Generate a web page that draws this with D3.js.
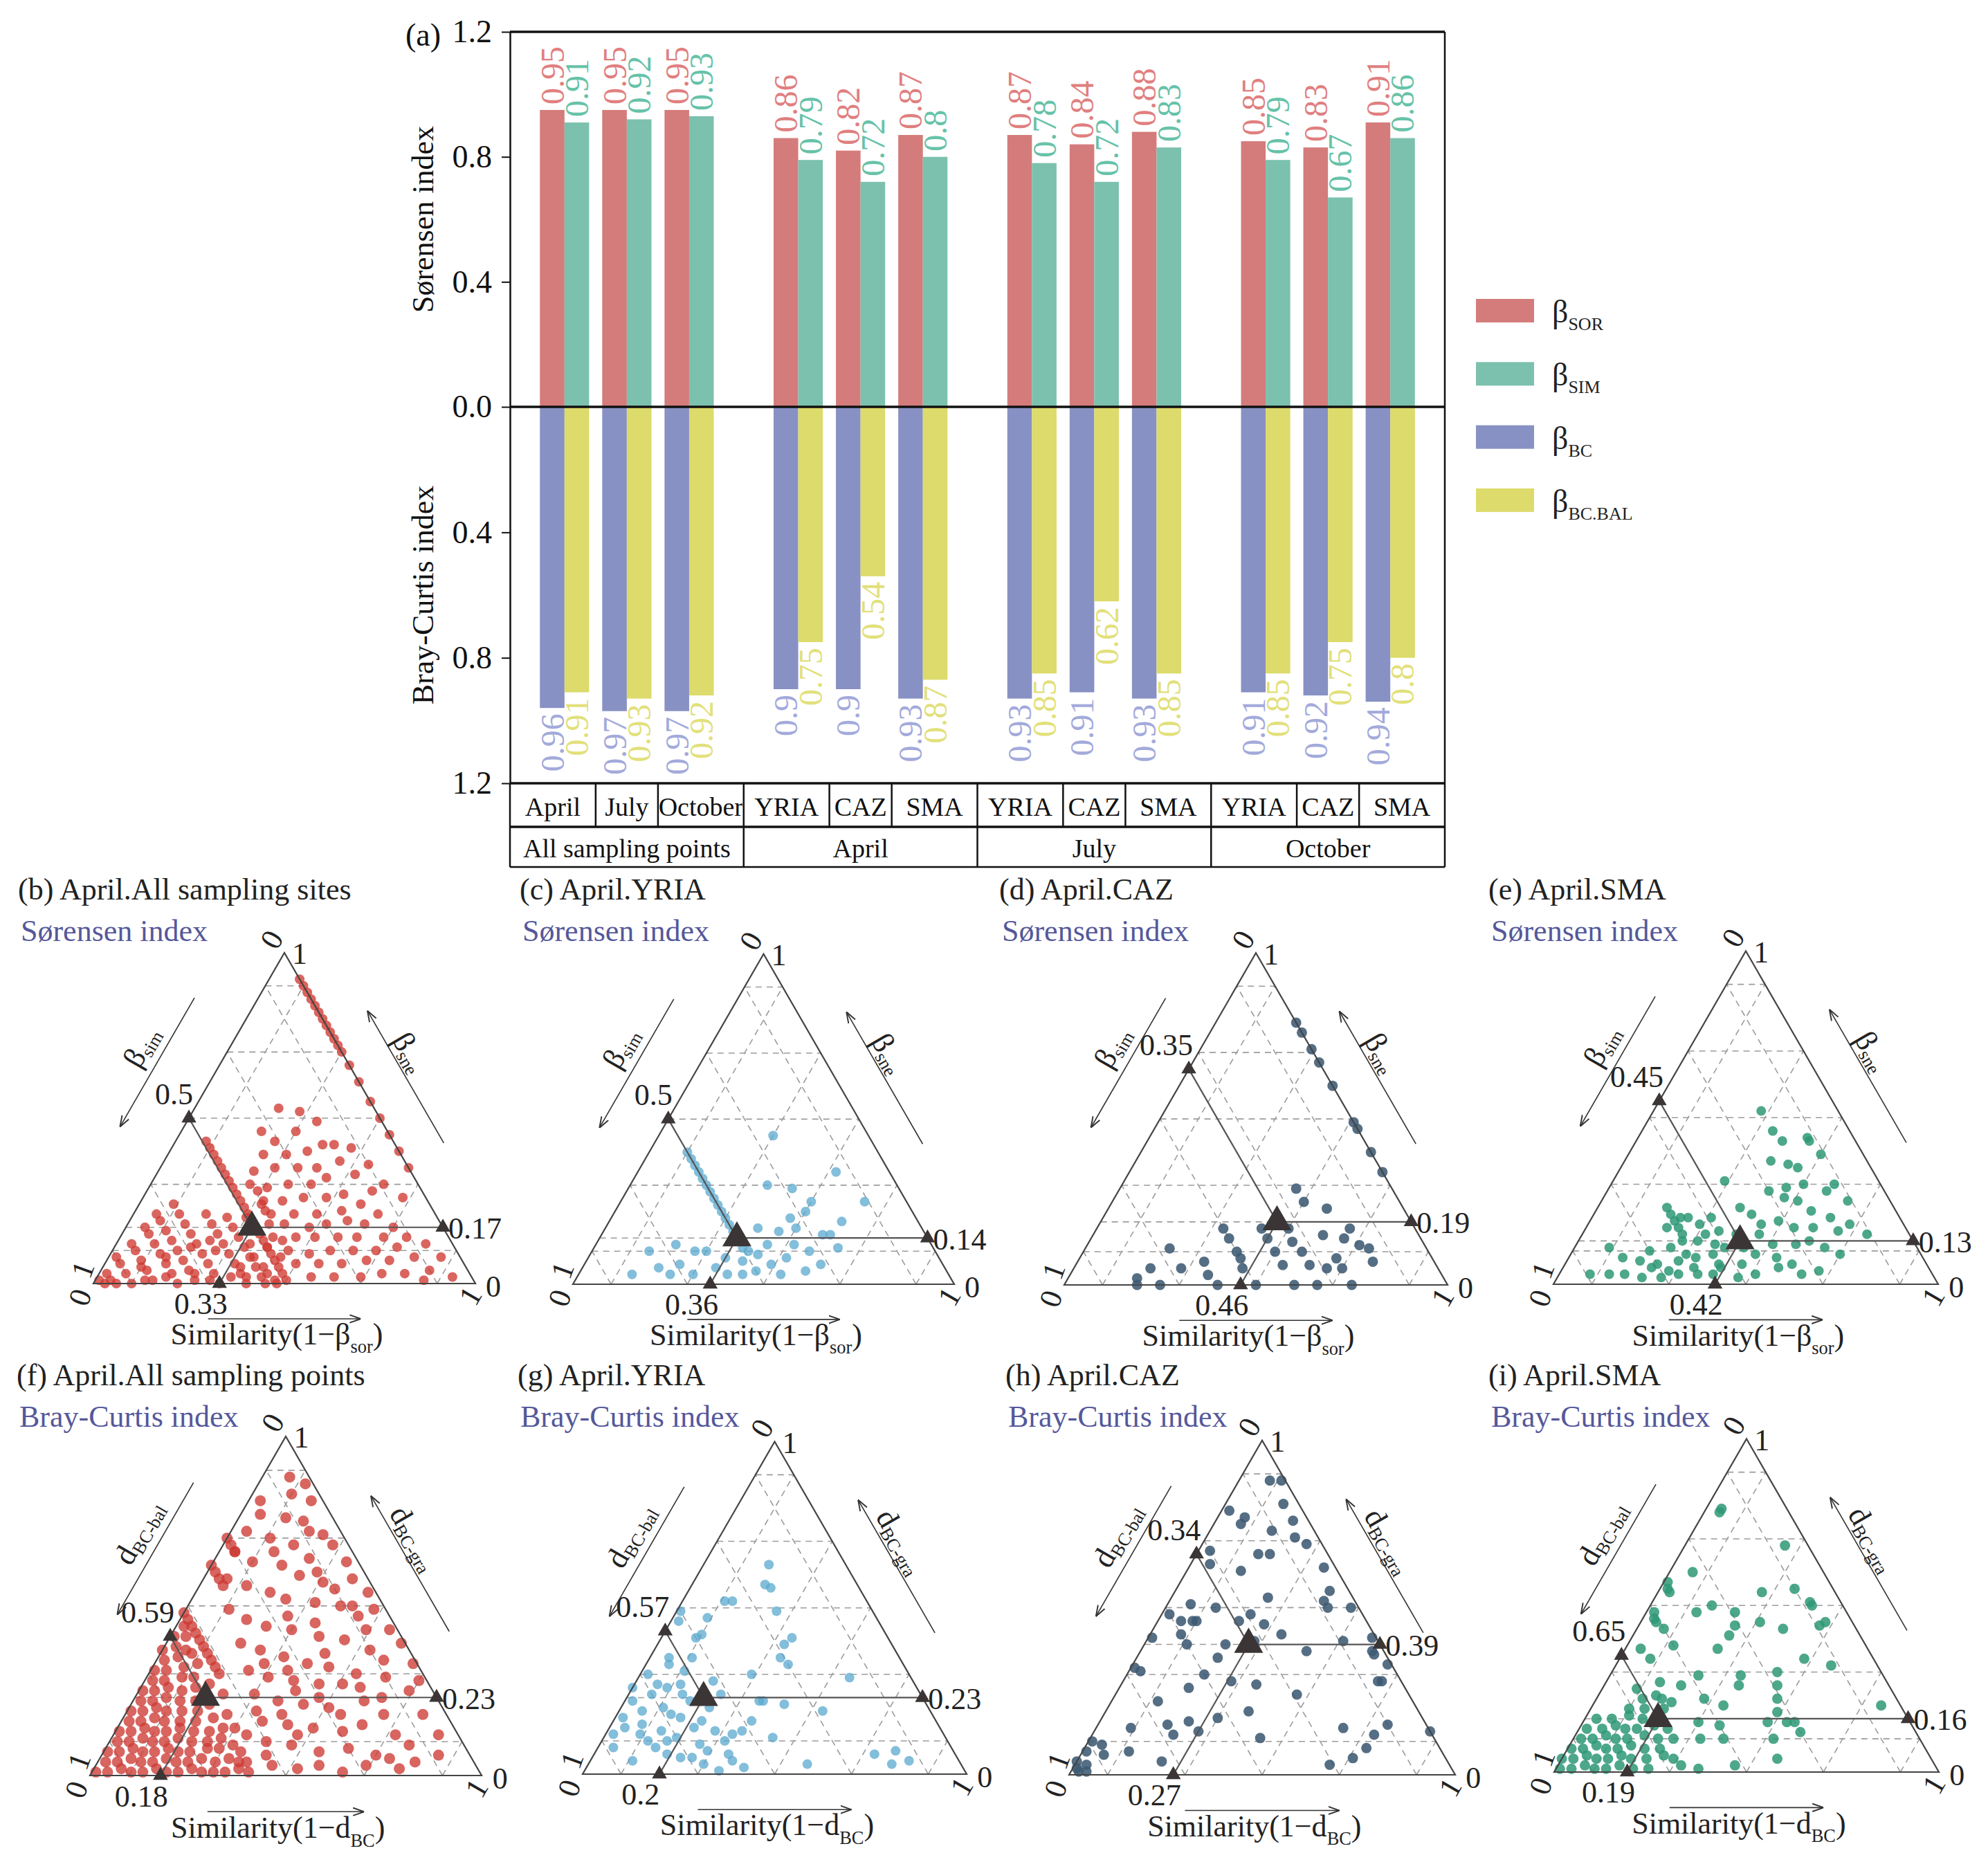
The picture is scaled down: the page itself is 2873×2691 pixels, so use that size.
<!DOCTYPE html>
<html>
<head>
<meta charset="utf-8">
<script src="https://cdn.jsdelivr.net/npm/d3@7"></script>
<style>
body { margin: 0; background: #fff; }
text { font-family: "Liberation Serif", "Times New Roman", serif; }
</style>
</head>
<body>
<div id="chart"></div>
<script>
const width = 2873;
const height = 2691;

// ---------- bar chart data ----------
const categories = ["April", "July", "October", "YRIA", "CAZ", "SMA", "YRIA", "CAZ", "SMA", "YRIA", "CAZ", "SMA"];
const categoryGroup = [0, 0, 0, 1, 1, 1, 2, 2, 2, 3, 3, 3];
const groups = ["All sampling points", "April", "July", "October"];
const sorValues = [0.95, 0.95, 0.95, 0.86, 0.82, 0.87, 0.87, 0.84, 0.88, 0.85, 0.83, 0.91];
const simValues = [0.91, 0.92, 0.93, 0.79, 0.72, 0.8, 0.78, 0.72, 0.83, 0.79, 0.67, 0.86];
const bcValues = [0.96, 0.97, 0.97, 0.9, 0.9, 0.93, 0.93, 0.91, 0.93, 0.91, 0.92, 0.94];
const balValues = [0.91, 0.93, 0.92, 0.75, 0.54, 0.87, 0.85, 0.62, 0.85, 0.85, 0.75, 0.8];
const upperTicks = [0, 0.4, 0.8, 1.2];
const lowerTicks = [0.4, 0.8, 1.2];
const legendNames = [["β", "SOR"], ["β", "SIM"], ["β", "BC"], ["β", "BC.BAL"]];

// ---------- ternary data: [similarity, nestedness/gradient] ----------
const panelTitles = ["(b) April.All sampling sites", "(c) April.YRIA", "(d) April.CAZ", "(e) April.SMA",
  "(f) April.All sampling points", "(g) April.YRIA", "(h) April.CAZ", "(i) April.SMA"];
const meanSim = [0.33, 0.36, 0.46, 0.42, 0.18, 0.2, 0.27, 0.19];
const meanLeft = [0.5, 0.5, 0.35, 0.45, 0.59, 0.57, 0.34, 0.65];
const meanRight = [0.17, 0.14, 0.19, 0.13, 0.23, 0.23, 0.39, 0.16];

const ptsB = [
  [0.08,0.92],[0.10,0.90],[0.12,0.88],[0.14,0.86],[0.16,0.84],[0.18,0.82],[0.20,0.80],[0.22,0.78],[0.24,0.76],[0.26,0.74],[0.28,0.72],[0.30,0.70],[0.34,0.66],[0.39,0.61],[0.45,0.55],[0.50,0.50],[0.55,0.45],[0.60,0.40],[0.65,0.35],
  [0.08,0.43],[0.10,0.41],[0.12,0.39],[0.14,0.37],[0.16,0.35],[0.18,0.33],[0.20,0.31],[0.22,0.29],[0.24,0.27],[0.26,0.25],[0.28,0.23],[0.30,0.21],[0.32,0.19],[0.34,0.17],[0.36,0.15],[0.38,0.13],[0.40,0.11],[0.42,0.09],[0.44,0.07],[0.46,0.05],[0.48,0.03],[0.50,0.01],
  [0.22,0.53],[0.28,0.52],[0.34,0.49],[0.21,0.46],[0.30,0.46],[0.26,0.43],[0.39,0.42],[0.42,0.42],[0.36,0.40],[0.25,0.39],[0.31,0.39],[0.47,0.41],[0.46,0.37],[0.41,0.35],[0.36,0.35],[0.30,0.35],[0.25,0.34],[0.54,0.36],[0.45,0.32],[0.52,0.33],[0.42,0.30],[0.36,0.30],[0.31,0.29],[0.26,0.30],[0.61,0.30],[0.59,0.28],[0.52,0.27],[0.48,0.26],[0.42,0.26],[0.37,0.25],[0.32,0.25],[0.58,0.24],[0.68,0.26],[0.54,0.22],[0.48,0.21],[0.42,0.21],[0.36,0.21],[0.64,0.21],[0.70,0.17],[0.62,0.18],[0.57,0.19],[0.52,0.18],[0.48,0.17],[0.41,0.18],[0.37,0.18],[0.75,0.14],[0.69,0.14],[0.62,0.14],[0.57,0.14],[0.51,0.14],[0.46,0.14],[0.40,0.14],[0.81,0.12],[0.74,0.11],[0.69,0.10],[0.63,0.10],[0.57,0.10],[0.52,0.09],[0.46,0.10],[0.87,0.08],[0.80,0.08],[0.74,0.07],[0.68,0.07],[0.62,0.06],[0.56,0.06],[0.50,0.06],[0.86,0.04],[0.80,0.03],[0.74,0.03],[0.69,0.02],[0.62,0.02],[0.56,0.02],[0.93,0.02],[0.86,0.01],
  [0.29,0.28],[0.32,0.24],[0.33,0.16],[0.35,0.12],[0.38,0.08],[0.42,0.05],[0.36,0.05],[0.40,0.11],[0.44,0.03],[0.47,0.01],[0.30,0.20],[0.34,0.22],[0.39,0.02],[0.43,0.13],[0.45,0.08],
  [0.43,0.02],[0.40,0.05],[0.37,0.08],[0.34,0.11],[0.31,0.14],[0.28,0.17],[0.25,0.20],
  [0.40,0.00],[0.37,0.03],[0.34,0.06],[0.31,0.09],[0.28,0.12],[0.25,0.15],[0.22,0.18],[0.19,0.21],
  [0.33,0.00],[0.30,0.03],[0.27,0.06],[0.24,0.09],[0.21,0.12],[0.18,0.15],[0.15,0.18],[0.12,0.21],[0.09,0.24],
  [0.26,0.01],[0.23,0.04],[0.20,0.07],[0.17,0.10],[0.14,0.13],[0.11,0.16],[0.08,0.19],[0.06,0.21],
  [0.22,0.00],[0.19,0.03],[0.16,0.06],[0.13,0.09],[0.10,0.12],[0.07,0.15],[0.05,0.17],
  [0.15,0.01],[0.12,0.04],[0.09,0.07],[0.06,0.10],[0.04,0.12],
  [0.10,0.00],[0.07,0.03],[0.04,0.06],[0.02,0.08],[0.04,0.01],[0.02,0.03],
  [0.01,0.01],[0.03,0.00],[0.06,0.00],[0.13,0.01],[0.18,0.02],[0.25,0.03],[0.30,0.01],[0.35,0.02],[0.45,0.00],[0.48,0.00],[0.20,0.11],[0.15,0.08],[0.27,0.10],[0.24,0.13],[0.10,0.05]
];
const ptsC = [
  [0.30,0.45],[0.52,0.34],[0.43,0.29],[0.50,0.25],[0.64,0.25],[0.50,0.22],[0.47,0.20],[0.61,0.19],[0.40,0.17],[0.46,0.16],[0.58,0.15],[0.60,0.15],[0.52,0.12],[0.57,0.10],[0.64,0.11],[0.45,0.12],[0.44,0.09],[0.49,0.06],[0.59,0.04],[0.53,0.03],[0.46,0.04],[0.15,0.10],[0.21,0.12],[0.20,0.05],[0.14,0.03],[0.25,0.06],[0.30,0.03],[0.30,0.10],[0.35,0.05],[0.39,0.03],[0.36,0.08],[0.27,0.10],[0.24,0.03],[0.43,0.03],[0.41,0.10],[0.52,0.08],[0.50,0.17],[0.62,0.06],[0.36,0.30],
  [0.10,0.40],[0.12,0.38],[0.14,0.36],[0.16,0.34],[0.18,0.32],[0.20,0.30],[0.22,0.28],[0.24,0.26],[0.26,0.24],[0.28,0.22],[0.30,0.20],[0.32,0.18],[0.34,0.16],[0.37,0.13],[0.39,0.11],[0.41,0.07]
];
const ptsD = [
  [0.21,0.79],[0.24,0.76],[0.29,0.71],[0.33,0.67],[0.40,0.60],[0.51,0.49],[0.53,0.47],[0.60,0.40],[0.66,0.34],
  [0.19,0.00],[0.25,0.00],[0.40,0.00],[0.50,0.00],[0.60,0.00],[0.66,0.00],[0.75,0.00],
  [0.46,0.29],[0.50,0.25],[0.57,0.23],[0.43,0.17],[0.50,0.17],[0.33,0.17],[0.36,0.14],[0.40,0.10],[0.42,0.08],[0.44,0.05],[0.46,0.14],[0.50,0.10],[0.54,0.06],[0.53,0.13],[0.57,0.10],[0.61,0.06],[0.60,0.15],[0.66,0.05],[0.67,0.08],[0.70,0.05],[0.66,0.14],[0.66,0.17],[0.71,0.12],[0.74,0.11],[0.77,0.07],[0.22,0.11],[0.20,0.05],[0.18,0.02],[0.28,0.05],[0.33,0.07],[0.36,0.03]
];
const ptsE = [
  [0.28,0.52],[0.34,0.46],[0.38,0.43],[0.44,0.44],[0.45,0.43],[0.50,0.39],[0.38,0.37],[0.43,0.36],[0.46,0.35],[0.29,0.31],[0.50,0.30],[0.42,0.28],[0.46,0.29],[0.58,0.30],[0.57,0.28],[0.47,0.26],[0.51,0.25],[0.64,0.25],[0.37,0.23],[0.41,0.21],[0.56,0.22],[0.62,0.20],[0.68,0.18],[0.45,0.18],[0.49,0.19],[0.54,0.17],[0.59,0.17],[0.66,0.16],[0.74,0.15],[0.46,0.15],[0.51,0.12],[0.57,0.12],[0.60,0.13],[0.65,0.11],[0.70,0.09],[0.48,0.09],[0.54,0.08],[0.59,0.06],[0.63,0.03],[0.67,0.04],[0.51,0.03],[0.46,0.06],[0.44,0.11],[0.40,0.15],
  [0.18,0.23],[0.22,0.19],[0.23,0.20],[0.25,0.20],[0.21,0.17],[0.26,0.15],[0.29,0.18],[0.31,0.20],[0.35,0.16],[0.31,0.13],[0.25,0.11],[0.20,0.10],[0.09,0.11],[0.14,0.08],[0.19,0.07],[0.24,0.06],[0.29,0.07],[0.33,0.08],[0.37,0.09],[0.39,0.11],[0.08,0.03],[0.13,0.03],[0.17,0.03],[0.22,0.02],[0.27,0.02],[0.31,0.03],[0.36,0.03],[0.40,0.03],[0.41,0.05],[0.23,0.05],[0.30,0.09],[0.32,0.15],[0.40,0.06],[0.47,0.02],[0.56,0.05],
  [0.20,0.21],[0.24,0.17],[0.27,0.13],[0.28,0.04],[0.34,0.05],[0.36,0.12]
];
const ptsF = [
  [0.12,0.86],[0.10,0.83],[0.16,0.81],[0.03,0.81],[0.05,0.77],[0.12,0.76],[0.17,0.75],[0.24,0.71],[0.28,0.68],[0.04,0.72],[0.11,0.70],[0.18,0.68],[0.24,0.64],[0.34,0.63],[0.38,0.58],[0.04,0.66],[0.10,0.63],[0.18,0.62],[0.24,0.59],[0.31,0.57],[0.44,0.54],[0.48,0.49],[0.06,0.58],[0.12,0.56],[0.19,0.54],[0.24,0.52],[0.32,0.51],[0.39,0.50],[0.45,0.47],[0.55,0.43],[0.60,0.39],[0.11,0.49],[0.17,0.46],[0.23,0.44],[0.30,0.43],[0.38,0.41],[0.45,0.40],[0.53,0.37],[0.66,0.33],[0.70,0.28],[0.19,0.39],[0.25,0.37],[0.32,0.35],[0.39,0.33],[0.45,0.32],[0.53,0.30],[0.61,0.29],[0.25,0.31],[0.31,0.29],[0.38,0.28],[0.45,0.27],[0.51,0.27],[0.69,0.25],[0.30,0.24],[0.37,0.22],[0.44,0.21],[0.51,0.20],[0.59,0.22],[0.66,0.18],[0.76,0.18],[0.36,0.16],[0.43,0.15],[0.50,0.14],[0.58,0.13],[0.83,0.12],[0.40,0.10],[0.47,0.09],[0.55,0.07],[0.70,0.06],[0.74,0.05],[0.78,0.02],[0.81,0.04],[0.86,0.06],[0.45,0.03],[0.52,0.02],[0.64,0.01],[0.69,0.03],
  [0.07,0.88],[0.20,0.72],[0.14,0.66],[0.28,0.60],[0.35,0.55],[0.42,0.50],[0.27,0.47],[0.35,0.45],[0.49,0.43],[0.58,0.34],[0.42,0.36],[0.28,0.33],[0.35,0.31],[0.56,0.26],[0.63,0.23],[0.40,0.25],[0.47,0.23],[0.33,0.19],[0.55,0.18],[0.62,0.15],[0.72,0.12],[0.40,0.18],[0.47,0.12],[0.62,0.08],[0.77,0.09],[0.57,0.03],[0.35,0.07],[0.42,0.06],
  [0.01,0.01],[0.04,0.01],[0.07,0.02],[0.10,0.01],[0.13,0.01],[0.16,0.02],[0.19,0.01],[0.22,0.01],[0.25,0.02],[0.28,0.01],[0.31,0.01],
  [0.02,0.04],[0.05,0.04],[0.08,0.05],[0.11,0.04],[0.14,0.04],[0.17,0.05],[0.20,0.04],[0.23,0.04],[0.26,0.05],[0.30,0.04],
  [0.01,0.07],[0.04,0.07],[0.07,0.08],[0.10,0.07],[0.13,0.07],[0.16,0.08],[0.19,0.07],[0.22,0.07],[0.26,0.08],
  [0.02,0.10],[0.05,0.10],[0.08,0.11],[0.11,0.10],[0.14,0.10],[0.17,0.11],[0.21,0.10],[0.25,0.10],
  [0.01,0.13],[0.04,0.13],[0.07,0.14],[0.10,0.13],[0.13,0.13],[0.16,0.14],[0.20,0.13],[0.24,0.13],
  [0.02,0.16],[0.05,0.16],[0.08,0.17],[0.11,0.16],[0.15,0.16],[0.19,0.16],
  [0.01,0.19],[0.04,0.19],[0.07,0.20],[0.10,0.19],[0.14,0.19],[0.18,0.19],
  [0.02,0.22],[0.05,0.22],[0.08,0.23],[0.12,0.22],[0.16,0.22],
  [0.01,0.25],[0.04,0.25],[0.07,0.26],[0.11,0.25],
  [0.02,0.28],[0.05,0.28],[0.09,0.29],[0.01,0.31],[0.04,0.31],[0.08,0.32],[0.02,0.34],[0.05,0.35],
  [0.34,0.01],[0.37,0.02],[0.40,0.01],[0.33,0.05],[0.36,0.04],[0.29,0.08],[0.32,0.09],[0.28,0.11],[0.27,0.14],[0.23,0.17],[0.26,0.18],[0.20,0.21],[0.22,0.24],[0.14,0.26],[0.17,0.27],[0.12,0.29],[0.11,0.33],[0.00,0.37],[0.03,0.38],[0.06,0.37],[0.01,0.41],[0.04,0.41],[0.02,0.44],[0.08,0.36],[0.30,0.14],[0.34,0.12],[0.38,0.04],[0.18,0.30],
  [0.00,0.48],[0.02,0.46],[0.04,0.44],[0.06,0.42],[0.08,0.40],[0.10,0.38],[0.12,0.36],[0.14,0.34],[0.16,0.32],
  [0.00,0.62],[0.02,0.60],[0.04,0.58],[0.06,0.56],[0.00,0.70],[0.02,0.68],[0.04,0.66]
];
const ptsG = [
  [0.17,0.63],[0.19,0.57],[0.21,0.56],[0.11,0.52],[0.13,0.52],[0.26,0.49],[0.01,0.49],[0.02,0.46],[0.09,0.47],[0.09,0.41],[0.10,0.42],[0.34,0.41],[0.33,0.39],[0.05,0.35],[0.11,0.35],[0.34,0.35],[0.37,0.33],[0.06,0.33],[0.02,0.30],[0.11,0.31],[0.29,0.30],[0.55,0.29],[0.06,0.27],[0.09,0.26],[0.06,0.24],[0.12,0.27],[0.14,0.24],[0.20,0.28],[0.24,0.24],[0.00,0.26],[0.02,0.22],[0.02,0.17],[0.06,0.19],[0.11,0.20],[0.14,0.18],[0.17,0.17],[0.23,0.20],[0.22,0.14],[0.28,0.13],[0.32,0.10],[0.33,0.12],[0.35,0.13],[0.36,0.16],[0.35,0.22],[0.36,0.22],[0.44,0.11],[0.42,0.21],[0.53,0.19],[0.02,0.12],[0.09,0.12],[0.12,0.10],[0.15,0.08],[0.17,0.10],[0.19,0.06],[0.23,0.05],[0.26,0.05],[0.29,0.07],[0.35,0.06],[0.37,0.04],[0.41,0.02],[0.35,0.01],[0.57,0.03],[0.73,0.06],[0.78,0.07],[0.79,0.03],[0.83,0.04],[0.11,0.04],[0.04,0.08],[0.08,0.15],[0.17,0.22],[0.23,0.16],[0.04,0.14],[0.14,0.13],[0.19,0.11],[0.26,0.09],[0.30,0.03]
];
const ptsH = [
  [0.08,0.88],[0.11,0.88],[0.02,0.79],[0.07,0.77],[0.15,0.81],[0.07,0.75],[0.20,0.76],[0.16,0.73],[0.23,0.71],[0.27,0.69],[0.16,0.66],[0.19,0.66],[0.03,0.67],[0.05,0.63],[0.14,0.61],[0.35,0.62],[0.40,0.55],[0.25,0.53],[0.40,0.52],[0.42,0.50],[0.48,0.50],[0.06,0.51],[0.13,0.50],[0.02,0.48],[0.06,0.46],[0.09,0.46],[0.10,0.46],[0.21,0.46],[0.23,0.48],[0.28,0.45],[0.08,0.42],[0.01,0.41],[0.11,0.39],[0.21,0.39],[0.21,0.35],[0.28,0.40],[0.34,0.42],[0.51,0.40],[0.43,0.37],[0.58,0.41],[0.60,0.37],[0.61,0.36],[0.01,0.32],[0.03,0.31],[0.20,0.30],[0.28,0.28],[0.35,0.27],[0.66,0.28],[0.67,0.28],[0.66,0.33],[0.18,0.26],[0.47,0.24],[0.12,0.22],[0.37,0.19],[0.30,0.17],[0.18,0.15],[0.23,0.16],[0.09,0.14],[0.27,0.13],[0.64,0.14],[0.75,0.15],[0.73,0.12],[0.87,0.13],[0.44,0.11],[0.21,0.12],[0.12,0.07],[0.06,0.06],[0.04,0.09],[0.01,0.10],[0.01,0.07],[0.22,0.04],[0.66,0.03],[0.71,0.05],[0.73,0.08],[0.01,0.02],[0.02,0.01],[0.03,0.03],[0.00,0.04],[0.04,0.01]
];
const ptsI = [
  [0.04,0.79],[0.04,0.78],[0.26,0.68],[0.06,0.60],[0.01,0.57],[0.02,0.55],[0.03,0.54],[0.27,0.54],[0.35,0.55],[0.41,0.51],[0.42,0.50],[0.16,0.50],[0.13,0.48],[0.02,0.48],[0.03,0.46],[0.04,0.45],[0.23,0.48],[0.31,0.45],[0.48,0.45],[0.47,0.44],[0.38,0.43],[0.25,0.44],[0.07,0.43],[0.25,0.41],[0.12,0.38],[0.24,0.37],[0.04,0.37],[0.48,0.34],[0.56,0.32],[0.08,0.34],[0.43,0.30],[0.34,0.29],[0.23,0.29],[0.20,0.26],[0.14,0.27],[0.35,0.26],[0.45,0.26],[0.15,0.23],[0.09,0.25],[0.28,0.22],[0.47,0.22],[0.34,0.20],[0.75,0.20],[0.49,0.18],[0.53,0.15],[0.55,0.15],[0.48,0.15],[0.30,0.15],[0.36,0.14],[0.58,0.12],[0.52,0.10],[0.33,0.10],[0.39,0.10],[0.56,0.04],[0.46,0.02],[0.29,0.04],[0.32,0.02],[0.37,0.01],
  [0.01,0.01],[0.04,0.01],[0.07,0.02],[0.10,0.01],[0.13,0.01],[0.16,0.02],[0.20,0.01],[0.24,0.01],
  [0.00,0.04],[0.03,0.04],[0.06,0.05],[0.09,0.04],[0.12,0.04],[0.15,0.05],[0.18,0.04],[0.22,0.04],[0.26,0.05],
  [0.01,0.07],[0.04,0.07],[0.07,0.08],[0.10,0.07],[0.13,0.07],[0.16,0.08],[0.20,0.07],[0.24,0.07],
  [0.02,0.10],[0.05,0.10],[0.08,0.11],[0.11,0.10],[0.14,0.10],[0.18,0.11],[0.22,0.10],[0.26,0.10],
  [0.02,0.13],[0.06,0.13],[0.09,0.14],[0.12,0.13],[0.15,0.13],[0.19,0.14],[0.23,0.13],
  [0.03,0.16],[0.07,0.16],[0.11,0.17],[0.15,0.16],[0.20,0.16],
  [0.10,0.19],[0.14,0.19],[0.19,0.19],[0.12,0.22],[0.17,0.22],[0.20,0.21]
];
const panelPoints = [ptsB, ptsC, ptsD, ptsE, ptsF, ptsG, ptsH, ptsI];
const gridLevels = [0.1, 0.3, 0.5, 0.7, 0.9];

// ---------- layout ----------
const panelLayout = [
  { x0: 135, y0: 1855, L: 552, tx: 26, ty: 1300 },
  { x0: 828, y0: 1856, L: 551, tx: 751, ty: 1300 },
  { x0: 1538, y0: 1857, L: 554, tx: 1444, ty: 1300 },
  { x0: 2245, y0: 1856, L: 556, tx: 2151, ty: 1300 },
  { x0: 130, y0: 2566, L: 566, tx: 24, ty: 2002 },
  { x0: 842, y0: 2564, L: 555, tx: 748, ty: 2002 },
  { x0: 1545, y0: 2565, L: 558, tx: 1453, ty: 2002 },
  { x0: 2246, y0: 2561, L: 556, tx: 2151, ty: 2002 }
];
const panelStyle = [
  { fill: "#d03a32", op: 0.78, r: 7 },
  { fill: "#5aa8cf", op: 0.75, r: 7 },
  { fill: "#3d5a73", op: 0.88, r: 7.5 },
  { fill: "#2e9876", op: 0.85, r: 7 },
  { fill: "#cd3a33", op: 0.78, r: 8 },
  { fill: "#5aa8cf", op: 0.75, r: 7 },
  { fill: "#3d5a73", op: 0.88, r: 7.5 },
  { fill: "#2e9876", op: 0.85, r: 7.5 }
];

const svg = d3.select("#chart")
    .append("svg")
    .attr("width", width)
    .attr("height", height);

svg.append("rect").attr("width", width).attr("height", height).attr("fill", "#fff");

const defs = svg.append("defs");
defs.append("marker")
    .attr("id", "arr")
    .attr("viewBox", "0 0 10 10")
    .attr("refX", 10).attr("refY", 5)
    .attr("markerWidth", 16).attr("markerHeight", 16)
    .attr("markerUnits", "userSpaceOnUse")
    .attr("orient", "auto")
    .append("path")
    .attr("d", "M0,1.5 L10,5 L0,8.5")
    .attr("fill", "none")
    .attr("stroke", "#333")
    .attr("stroke-width", 1.2);

// ===================== (a) bar chart =====================
const plotL = 737, plotR = 2088, plotTop = 46, zeroY = 588, plotBot = 1132, row1 = 1195, row2 = 1253;
const pos = categories.map((c, i) => i + categoryGroup[i] * 0.75);

const x = d3.scaleLinear().domain([-0.875, 14.125]).range([plotL, plotR]);
const yUp = d3.scaleLinear().domain([0, 1.2]).range([zeroY, plotTop]);
const yDown = d3.scaleLinear().domain([0, 1.2]).range([zeroY, plotBot]);
const bw = x(0.395) - x(0);

const barColors = ["#d47c7b", "#7cc1ae", "#8891c4", "#dcdb6b"];
const labelColors = ["#e07f7f", "#66c2a8", "#a3aadb", "#e2e07a"];

const upperSeries = [
  { values: sorValues, side: -1, color: barColors[0], lab: labelColors[0] },
  { values: simValues, side: 0, color: barColors[1], lab: labelColors[1] }
];
const lowerSeries = [
  { values: bcValues, side: -1, color: barColors[2], lab: labelColors[2] },
  { values: balValues, side: 0, color: barColors[3], lab: labelColors[3] }
];

const barG = svg.append("g");

upperSeries.forEach(s => {
  barG.selectAll(null)
      .data(s.values)
      .enter()
      .append("rect")
      .attr("x", (d, i) => x(pos[i]) + s.side * bw)
      .attr("y", d => yUp(d))
      .attr("width", bw)
      .attr("height", d => zeroY - yUp(d))
      .attr("fill", s.color);
  barG.selectAll(null)
      .data(s.values)
      .enter()
      .append("text")
      .attr("transform", (d, i) => {
        const cx = x(pos[i]) + s.side * bw + bw / 2;
        return `translate(${cx},${yUp(d) - 8}) rotate(-90)`;
      })
      .attr("dominant-baseline", "central")
      .attr("text-anchor", "start")
      .attr("font-size", 48)
      .attr("fill", s.lab)
      .text(d => String(d));
});

lowerSeries.forEach(s => {
  barG.selectAll(null)
      .data(s.values)
      .enter()
      .append("rect")
      .attr("x", (d, i) => x(pos[i]) + s.side * bw)
      .attr("y", zeroY)
      .attr("width", bw)
      .attr("height", d => yDown(d) - zeroY)
      .attr("fill", s.color);
  barG.selectAll(null)
      .data(s.values)
      .enter()
      .append("text")
      .attr("transform", (d, i) => {
        const cx = x(pos[i]) + s.side * bw + bw / 2;
        return `translate(${cx},${yDown(d) + 8}) rotate(-90)`;
      })
      .attr("dominant-baseline", "central")
      .attr("text-anchor", "end")
      .attr("font-size", 48)
      .attr("fill", s.lab)
      .text(d => String(d));
});

// axes
const fmt = d3.format(".1f");
const axUp = svg.append("g")
    .attr("transform", `translate(${plotL},0)`)
    .call(d3.axisLeft(yUp).tickValues(upperTicks).tickFormat(fmt).tickSize(12).tickPadding(14).tickSizeOuter(0));
const axDown = svg.append("g")
    .attr("transform", `translate(${plotL},0)`)
    .call(d3.axisLeft(yDown).tickValues(lowerTicks).tickFormat(fmt).tickSize(12).tickPadding(14).tickSizeOuter(0));
[axUp, axDown].forEach(a => {
  a.attr("font-family", null).attr("font-size", null);
  a.selectAll("text").attr("font-size", 46).attr("fill", "#111");
  a.selectAll("line").attr("stroke", "#111").attr("stroke-width", 2);
  a.select(".domain").attr("stroke", "#111").attr("stroke-width", 2.5);
});

// frame
const frame = svg.append("g").attr("stroke", "#111").attr("fill", "none");
frame.append("line").attr("x1", plotL).attr("x2", plotR).attr("y1", plotTop).attr("y2", plotTop).attr("stroke-width", 3.5);
frame.append("line").attr("x1", plotL).attr("x2", plotR).attr("y1", zeroY).attr("y2", zeroY).attr("stroke-width", 3.5);
frame.append("line").attr("x1", plotR).attr("x2", plotR).attr("y1", plotTop).attr("y2", row2).attr("stroke-width", 2.5);
frame.append("line").attr("x1", plotL).attr("x2", plotL).attr("y1", plotBot).attr("y2", row2).attr("stroke-width", 2.5);
frame.append("line").attr("x1", plotL).attr("x2", plotR).attr("y1", plotBot).attr("y2", plotBot).attr("stroke-width", 3.5);
frame.append("line").attr("x1", plotL).attr("x2", plotR).attr("y1", row1).attr("y2", row1).attr("stroke-width", 3.5);
frame.append("line").attr("x1", plotL).attr("x2", plotR).attr("y1", row2).attr("y2", row2).attr("stroke-width", 2.5);

// table below the bars
const colEdges = [plotL];
for (let i = 0; i < pos.length - 1; i++) colEdges.push((x(pos[i]) + x(pos[i + 1])) / 2);
colEdges.push(plotR);
const groupEdges = [plotL, colEdges[3], colEdges[6], colEdges[9], plotR];

colEdges.slice(1, -1).forEach(e => {
  frame.append("line").attr("x1", e).attr("x2", e).attr("y1", plotBot).attr("y2", row1).attr("stroke-width", 2.5);
});
groupEdges.slice(1, -1).forEach(e => {
  frame.append("line").attr("x1", e).attr("x2", e).attr("y1", row1).attr("y2", row2).attr("stroke-width", 2.5);
});

categories.forEach((c, i) => {
  const cid = "cell" + i;
  defs.append("clipPath").attr("id", cid)
      .append("rect")
      .attr("x", colEdges[i] + 2).attr("y", plotBot)
      .attr("width", colEdges[i + 1] - colEdges[i] - 4).attr("height", row1 - plotBot);
  svg.append("text")
      .attr("clip-path", `url(#${cid})`)
      .attr("x", (colEdges[i] + colEdges[i + 1]) / 2)
      .attr("y", (plotBot + row1) / 2 + 2)
      .attr("text-anchor", "middle")
      .attr("dominant-baseline", "central")
      .attr("font-size", 38)
      .attr("fill", "#111")
      .text(c);
});
groups.forEach((g, i) => {
  svg.append("text")
      .attr("x", (groupEdges[i] + groupEdges[i + 1]) / 2)
      .attr("y", (row1 + row2) / 2 + 2)
      .attr("text-anchor", "middle")
      .attr("dominant-baseline", "central")
      .attr("font-size", 38)
      .attr("fill", "#111")
      .text(g);
});

// axis titles and panel letter
svg.append("text")
    .attr("transform", `translate(611,${(plotTop + zeroY) / 2}) rotate(-90)`)
    .attr("text-anchor", "middle").attr("dominant-baseline", "central")
    .attr("font-size", 44).attr("fill", "#111")
    .text("Sørensen index");
svg.append("text")
    .attr("transform", `translate(611,${(zeroY + plotBot) / 2}) rotate(-90)`)
    .attr("text-anchor", "middle").attr("dominant-baseline", "central")
    .attr("font-size", 44).attr("fill", "#111")
    .text("Bray-Curtis index");
svg.append("text")
    .attr("x", 586).attr("y", 66)
    .attr("font-size", 46).attr("fill", "#111")
    .text("(a)");

// legend
const legend = svg.append("g");
legendNames.forEach((n, i) => {
  const ly = 432 + i * 91.3;
  legend.append("rect")
      .attr("x", 2133).attr("y", ly)
      .attr("width", 84).attr("height", 34)
      .attr("fill", barColors[i]);
  const t = legend.append("text")
      .attr("x", 2243).attr("y", ly + 34)
      .attr("font-size", 46).attr("fill", "#222");
  t.append("tspan").text(n[0]);
  t.append("tspan").attr("font-size", 26).attr("dy", 11).text(n[1]);
});

// ===================== (b)-(i) ternary plots =====================
function subLabel(sel, main, sub, tail, size) {
  sel.append("tspan").text(main);
  sel.append("tspan").attr("font-size", size * 0.6).attr("dy", size * 0.28).text(sub);
  if (tail) sel.append("tspan").attr("dy", -size * 0.28).text(tail);
}

function ternary(k) {
  const p = panelLayout[k];
  const st = panelStyle[k];
  const pts = panelPoints[k];
  const sor = k < 4;
  const sc = p.L / 552;
  const H = p.L * Math.sqrt(3) / 2;
  const xs = d3.scaleLinear().domain([0, 1]).range([p.x0, p.x0 + p.L]);
  const ys = d3.scaleLinear().domain([0, 1]).range([p.y0, p.y0 - H]);
  const pt = (s, c) => [xs(s + c / 2), ys(c)];
  const line = d3.line();
  const g = svg.append("g");

  // titles
  g.append("text").attr("x", p.tx).attr("y", p.ty)
      .attr("font-size", 44).attr("fill", "#222").text(panelTitles[k]);
  g.append("text").attr("x", p.tx + 4).attr("y", p.ty + 60)
      .attr("font-size", 44).attr("fill", "#55589a").text(sor ? "Sørensen index" : "Bray-Curtis index");

  // dashed grid
  const grid = g.append("g").attr("stroke", "#9c9c9c").attr("stroke-width", 1.6)
      .attr("stroke-dasharray", "9,7").attr("fill", "none");
  gridLevels.forEach(v => {
    grid.append("path").attr("d", line([pt(0, v), pt(1 - v, v)]));
    grid.append("path").attr("d", line([pt(v, 0), pt(v, 1 - v)]));
    grid.append("path").attr("d", line([pt(1 - v, 0), pt(0, 1 - v)]));
  });
  const ms = meanSim[k], mc = meanRight[k], mb = meanLeft[k];
  grid.append("path").attr("d", line([pt(0, mc), pt(ms, mc)]));

  // points
  g.append("g").selectAll("circle")
      .data(pts)
      .enter()
      .append("circle")
      .attr("cx", d => pt(d[0], d[1])[0])
      .attr("cy", d => pt(d[0], d[1])[1])
      .attr("r", st.r)
      .attr("fill", st.fill)
      .attr("fill-opacity", st.op);

  // triangle frame
  g.append("path")
      .attr("d", line([pt(0, 0), pt(1, 0), pt(0, 1)]) + "Z")
      .attr("fill", "none").attr("stroke", "#444").attr("stroke-width", 2.2);

  // mean projection lines
  const mPt = pt(ms, mc);
  const bPt = pt(ms, 0);
  const lPt = pt(0, 1 - mb);
  const rPt = pt(1 - mc, mc);
  [bPt, lPt, rPt].forEach(e => {
    g.append("path").attr("d", line([mPt, e]))
        .attr("stroke", "#555").attr("stroke-width", 2.2).attr("fill", "none");
  });
  const tri = d3.symbol().type(d3.symbolTriangle);
  [bPt, lPt, rPt].forEach(e => {
    g.append("path").attr("d", tri.size(200)())
        .attr("transform", `translate(${e[0]},${e[1]})`).attr("fill", "#3b3535");
  });
  g.append("path").attr("d", tri.size(760)())
      .attr("transform", `translate(${mPt[0]},${mPt[1]})`).attr("fill", "#3b3535");

  const fs = 44;
  g.append("text").attr("x", bPt[0] - 27 * sc).attr("y", p.y0 + 44 * sc)
      .attr("text-anchor", "middle").attr("font-size", fs).attr("fill", "#222").text(String(ms));
  g.append("text").attr("x", lPt[0] + 6).attr("y", lPt[1] - 20)
      .attr("text-anchor", "end").attr("font-size", fs).attr("fill", "#222").text(String(mb));
  g.append("text").attr("x", rPt[0] + 8).attr("y", rPt[1] + 2)
      .attr("dominant-baseline", "central").attr("font-size", fs).attr("fill", "#222").text(String(mc));

  // corner labels
  const top = pt(0, 1), bl = pt(0, 0), br = pt(1, 0);
  const corner = (xx, yy, txt, rot) => {
    g.append("text")
        .attr("transform", `translate(${xx},${yy}) rotate(${rot})`)
        .attr("text-anchor", "middle").attr("dominant-baseline", "central")
        .attr("font-size", fs).attr("fill", "#222").text(txt);
  };
  corner(top[0] - 18 * sc, top[1] - 19 * sc, "0", -60);
  corner(top[0] + 22 * sc, top[1] + 2, "1", 0);
  corner(bl[0] - 15 * sc, bl[1] - 20 * sc, "1", -70);
  corner(bl[0] - 19 * sc, bl[1] + 20 * sc, "0", -70);
  corner(br[0] - 7 * sc, br[1] + 18 * sc, "1", -60);
  corner(br[0] + 26 * sc, br[1] + 4, "0", 0);

  // axis arrows
  const nL = [-0.866, -0.5], nR = [0.866, -0.5];
  const leftAt = (t, off) => { const q = pt(0, t); return [q[0] + nL[0] * off * sc, q[1] + nL[1] * off * sc]; };
  const rightAt = (t, off) => { const q = pt(1 - t, t); return [q[0] + nR[0] * off * sc, q[1] + nR[1] * off * sc]; };
  const arrow = (a, b) => g.append("path").attr("d", line([a, b]))
      .attr("stroke", "#333").attr("stroke-width", 1.6).attr("fill", "none").attr("marker-end", "url(#arr)");
  arrow(leftAt(0.78, 80), leftAt(0.39, 80));
  arrow(rightAt(0.36, 62), rightAt(0.76, 62));
  arrow([xs(0.30), p.y0 + 51 * sc], [xs(0.70), p.y0 + 51 * sc]);

  const lq = leftAt(0.60, 112);
  const lt = g.append("text")
      .attr("transform", `translate(${lq[0]},${lq[1]}) rotate(-60)`)
      .attr("text-anchor", "middle").attr("dominant-baseline", "central")
      .attr("font-size", fs).attr("fill", "#222");
  const rq = rightAt(0.61, 86);
  const rt = g.append("text")
      .attr("transform", `translate(${rq[0]},${rq[1]}) rotate(60)`)
      .attr("text-anchor", "middle").attr("dominant-baseline", "central")
      .attr("font-size", fs).attr("fill", "#222");
  const bt = g.append("text")
      .attr("x", xs(0.48)).attr("y", p.y0 + 88 * sc)
      .attr("text-anchor", "middle").attr("font-size", fs).attr("fill", "#222");
  if (sor) {
    subLabel(lt, "β", "sim", null, fs);
    subLabel(rt, "β", "sne", null, fs);
    subLabel(bt, "Similarity(1−β", "sor", ")", fs);
  } else {
    subLabel(lt, "d", "BC-bal", null, fs);
    subLabel(rt, "d", "BC-gra", null, fs);
    subLabel(bt, "Similarity(1−d", "BC", ")", fs);
  }
}

for (let k = 0; k < 8; k++) ternary(k);
</script>
</body>
</html>
